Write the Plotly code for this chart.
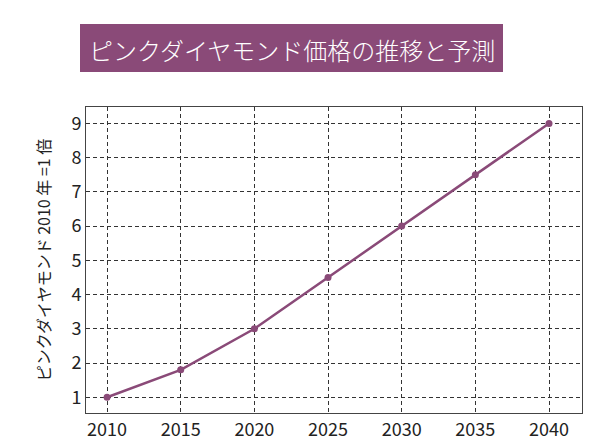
import plotly.graph_objects as go

years = [2010, 2015, 2020, 2025, 2030, 2035, 2040]
values = [1, 1.8, 3, 4.5, 6, 7.5, 9]
y_ticks = [1, 2, 3, 4, 5, 6, 7, 8, 9]
title_text = "ピンクダイヤモンド価格の推移と予測"
y_title = "ピンクダイヤモンド 2010 年 =1 倍"

PURPLE = "#8a4a78"
FONT = "Noto Sans CJK JP"

fig = go.Figure()
fig.add_trace(go.Scatter(
    x=years, y=values, mode="lines+markers",
    line=dict(color=PURPLE, width=2.5),
    marker=dict(color=PURPLE, size=7),
    showlegend=False, hoverinfo="skip",
))

# page offset from default body margin
OFF = 8
# target plot area on page: x 86..582, y 107..413 (px)
W, H = 598 - OFF, 446 - OFF
L, T = 86 - OFF, 107 - OFF
R = W - (582 - OFF)
B = H - (413 - OFF)
pw, ph = W - L - R, H - T - B

def px_x(px):
    return (px - OFF - L) / pw

def px_y(py):
    return (H - B - (py - OFF)) / ph

fig.add_shape(type="rect", xref="paper", yref="paper",
              x0=px_x(80), x1=px_x(503), y0=px_y(72), y1=px_y(24),
              fillcolor=PURPLE, line=dict(width=0), layer="above")
fig.add_annotation(text=title_text, xref="paper", yref="paper",
                   x=px_x(292), y=px_y(49), showarrow=False,
                   xanchor="center", yanchor="middle",
                   font=dict(family=FONT, size=24, color="white", weight=300))

grid = dict(showgrid=True, gridcolor="#333333", gridwidth=1, griddash="4px,3px")
tickfont = dict(family=FONT, size=18, color="#222222")
fig.update_xaxes(range=[2008.57, 2042.24], tickvals=years, ticks="",
                 showline=True, linecolor="#444444", linewidth=1, mirror=True,
                 zeroline=False, tickfont=tickfont, **grid)
fig.update_yaxes(range=[0.54, 9.48], tickvals=y_ticks, ticks="",
                 showline=True, linecolor="#444444", linewidth=1, mirror=True,
                 zeroline=False, tickfont=tickfont,
                 title=dict(text=y_title, font=dict(family=FONT, size=16, color="#222222"),
                            standoff=16),
                 **grid)

fig.update_layout(
    width=W, height=H,
    margin=dict(l=L, r=R, t=T, b=B, autoexpand=False),
    paper_bgcolor="white", plot_bgcolor="white",
    font=dict(family=FONT),
)

fig.write_html("out.html")
